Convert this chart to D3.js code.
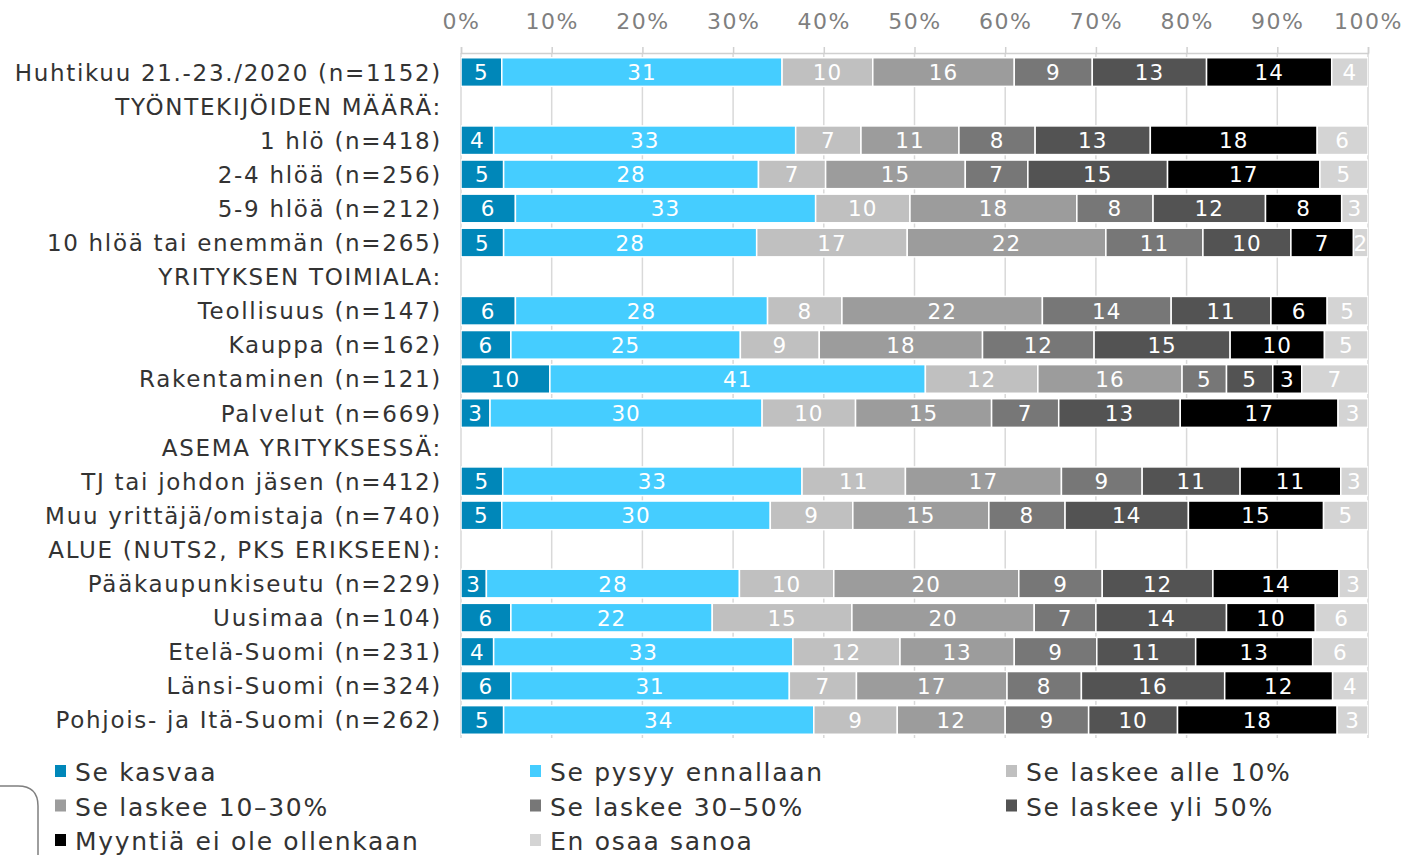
<!DOCTYPE html>
<html>
<head>
<meta charset="utf-8">
<script src="https://cdn.jsdelivr.net/npm/d3@7"></script>
<style>
  body { margin: 0; background: #fff; }
  svg { display: block; font-family: "DejaVu Sans", Verdana, sans-serif; }
</style>
</head>
<body>
<svg width="1408" height="855"></svg>
<script>
// row labels, header rows have no bars
var categories = [
  "Huhtikuu 21.-23./2020 (n=1152)",
  "TYÖNTEKIJÖIDEN MÄÄRÄ:",
  "1 hlö (n=418)",
  "2-4 hlöä (n=256)",
  "5-9 hlöä (n=212)",
  "10 hlöä tai enemmän (n=265)",
  "YRITYKSEN TOIMIALA:",
  "Teollisuus (n=147)",
  "Kauppa (n=162)",
  "Rakentaminen (n=121)",
  "Palvelut (n=669)",
  "ASEMA YRITYKSESSÄ:",
  "TJ tai johdon jäsen (n=412)",
  "Muu yrittäjä/omistaja (n=740)",
  "ALUE (NUTS2, PKS ERIKSEEN):",
  "Pääkaupunkiseutu (n=229)",
  "Uusimaa (n=104)",
  "Etelä-Suomi (n=231)",
  "Länsi-Suomi (n=324)",
  "Pohjois- ja Itä-Suomi (n=262)"
];

var seriesNames = [
  "Se kasvaa",
  "Se pysyy ennallaan",
  "Se laskee alle 10%",
  "Se laskee 10–30%",
  "Se laskee 30–50%",
  "Se laskee yli 50%",
  "Myyntiä ei ole ollenkaan",
  "En osaa sanoa"
];

var seriesColors = ["#0087b9", "#45cdff", "#c0c0c0", "#9c9c9c", "#777777", "#535353", "#000000", "#d4d4d4"];

// percentages per series, same order as categories (null = header row)
var kasvaa      = [4.5, null, 3.6, 4.7, 6.0, 4.7, null, 6.0, 5.5, 9.8, 3.2, null, 4.6, 4.5, null, 2.8, 5.5, 3.6, 5.5, 4.7];
var ennallaan   = [30.9, null, 33.3, 28.1, 33.1, 27.9, null, 27.8, 25.3, 41.4, 30.0, null, 33.0, 29.6, null, 27.9, 22.2, 33.0, 30.7, 34.2];
var alle10      = [10.0, null, 7.2, 7.4, 10.4, 16.6, null, 8.2, 8.7, 12.4, 10.3, null, 11.4, 9.1, null, 10.4, 15.4, 11.8, 7.4, 9.2];
var laskee1030  = [15.6, null, 10.8, 15.4, 18.4, 21.9, null, 22.1, 18.0, 15.9, 15.0, null, 17.2, 15.0, null, 20.4, 20.1, 12.6, 16.6, 11.9];
var laskee3050  = [8.6, null, 8.4, 6.9, 8.4, 10.7, null, 14.2, 12.3, 4.9, 7.4, null, 8.9, 8.4, null, 9.2, 6.8, 9.1, 8.2, 9.2];
var yli50       = [12.6, null, 12.7, 15.4, 12.4, 9.7, null, 11.0, 15.0, 5.1, 13.4, null, 10.8, 13.6, null, 12.2, 14.4, 10.9, 15.8, 9.8];
var eiMyyntia   = [13.8, null, 18.4, 16.8, 8.4, 6.9, null, 6.2, 10.4, 3.2, 17.4, null, 11.1, 14.9, null, 13.9, 9.8, 12.9, 11.9, 17.6];
var eiOsaa      = [4.0, null, 5.6, 5.3, 2.9, 1.6, null, 4.5, 4.8, 7.3, 3.3, null, 3.0, 4.9, null, 3.2, 5.8, 6.1, 3.9, 3.4];

var seriesValues = [kasvaa, ennallaan, alle10, laskee1030, laskee3050, yli50, eiMyyntia, eiOsaa];

var tickValues = [0, 10, 20, 30, 40, 50, 60, 70, 80, 90, 100];

var svg = d3.select("svg");

var x = d3.scaleLinear().domain([0, 100]).range([461, 1368]);
var y = d3.scaleBand()
    .domain(d3.range(categories.length))
    .range([55, 55 + 34.1 * categories.length])
    .paddingInner(0.16)
    .paddingOuter(0.08);

// build stacked table
var table = categories.map(function(c, i) {
  var row = { i: i, cat: c };
  seriesNames.forEach(function(s, k) { row[s] = seriesValues[k][i] || 0; });
  return row;
});
var stack = d3.stack().keys(seriesNames)(table);

// grid lines
svg.append("g")
    .selectAll("line")
    .data(tickValues)
    .enter().append("line")
    .attr("x1", function(d) { return x(d); })
    .attr("x2", function(d) { return x(d); })
    .attr("y1", 53)
    .attr("y2", 738)
    .attr("stroke", "#d9d9d9")
    .attr("stroke-width", 1.5);

// top axis
var axis = svg.append("g")
    .attr("transform", "translate(0,53)")
    .call(d3.axisTop(x).tickValues(tickValues).tickFormat(function(d) { return d + "%"; })
      .tickSize(6).tickPadding(18));
axis.select(".domain").attr("stroke", "#d0d0d0").attr("stroke-width", 1.5);
axis.selectAll(".tick line").attr("stroke", "#d0d0d0").attr("stroke-width", 1.5);
axis.selectAll(".tick text")
    .attr("fill", "#7f7f7f")
    .style("font-size", "22px")
    .style("font-family", "DejaVu Sans, Verdana, sans-serif")
    .style("letter-spacing", "1.5px");

svg.append("clipPath").attr("id", "plotclip")
  .append("rect").attr("x", x(0)).attr("y", 0).attr("width", x(100) - x(0)).attr("height", 855);

var bars = svg.append("g").attr("clip-path", "url(#plotclip)");

var layer = bars.selectAll("g.layer")
    .data(stack)
    .enter().append("g")
    .attr("class", "layer")
    .attr("fill", function(d, k) { return seriesColors[k]; });

layer.selectAll("rect")
    .data(function(d) { return d.filter(function(p) { return p[1] - p[0] > 0; }); })
    .enter().append("rect")
    .attr("x", function(p) { return x(p[0]); })
    .attr("y", function(p) { return y(p.data.i); })
    .attr("width", function(p) { return x(p[1]) - x(p[0]); })
    .attr("height", y.bandwidth())
    .attr("stroke", "#fff")
    .attr("stroke-width", 1.5);

layer.selectAll("text")
    .data(function(d) { return d.filter(function(p) { return p[1] - p[0] > 0; }); })
    .enter().append("text")
    .attr("x", function(p) { return x((p[0] + p[1]) / 2); })
    .attr("y", function(p) { return y(p.data.i) + y.bandwidth() / 2; })
    .attr("dy", "0.37em")
    .attr("text-anchor", "middle")
    .attr("fill", "#fff")
    .style("font-size", "21.5px")
    .style("letter-spacing", "1px")
    .text(function(p) { return Math.round(p[1] - p[0]); });

// row labels
svg.append("g")
    .selectAll("text")
    .data(categories)
    .enter().append("text")
    .attr("x", 442)
    .attr("y", function(d, i) { return y(i) + y.bandwidth() / 2; })
    .attr("dy", "0.37em")
    .attr("text-anchor", "end")
    .attr("fill", "#333")
    .style("font-size", "23px")
    .style("letter-spacing", "1.7px")
    .text(function(d) { return d; });

// legend
var legendX = [55, 530, 1006];
var legend = svg.append("g")
    .selectAll("g")
    .data(seriesNames)
    .enter().append("g")
    .attr("transform", function(d, k) {
      return "translate(" + legendX[k % 3] + "," + (772 + Math.floor(k / 3) * 34.5) + ")";
    });

legend.append("rect")
    .attr("x", 0).attr("y", -7)
    .attr("width", 11).attr("height", 12)
    .attr("fill", function(d, k) { return seriesColors[k]; });

legend.append("text")
    .attr("x", 20)
    .attr("dy", "0.36em")
    .attr("fill", "#333")
    .style("font-size", "25px")
    .style("letter-spacing", "1.7px")
    .text(function(d) { return d; });

// rounded frame peeking in at bottom-left
svg.append("path")
    .attr("d", "M0,786 H18 Q38,786 38,806 V855")
    .attr("fill", "none")
    .attr("stroke", "#7f7f7f")
    .attr("stroke-width", 1.5);
</script>
</body>
</html>
